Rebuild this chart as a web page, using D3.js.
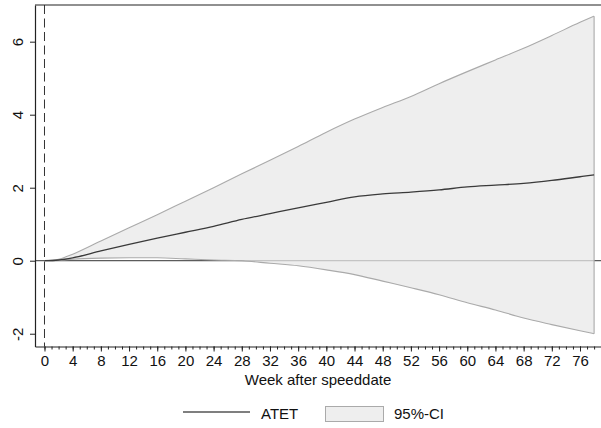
<!DOCTYPE html>
<html>
<head>
<meta charset="utf-8">
<script src="https://cdn.jsdelivr.net/npm/d3@7"></script>
<style>
  body { margin: 0; background: #fff; }
  svg { display: block; font-family: "Liberation Sans", Arial, Helvetica, sans-serif; }
</style>
</head>
<body>
<svg id="chart"></svg>
<script>
// Data
const weeks = [0, 2, 4, 8, 12, 16, 20, 24, 28, 32, 36, 40, 44, 48, 52, 56, 60, 64, 68, 72, 76, 78];
const atet  = [0, 0.02, 0.08, 0.27, 0.45, 0.62, 0.78, 0.94, 1.13, 1.29, 1.45, 1.60, 1.75, 1.83, 1.88, 1.94, 2.02, 2.07, 2.12, 2.20, 2.30, 2.35];
const ciUp  = [0, 0.04, 0.18, 0.54, 0.90, 1.26, 1.63, 2.00, 2.38, 2.75, 3.13, 3.52, 3.88, 4.20, 4.50, 4.85, 5.18, 5.50, 5.82, 6.17, 6.53, 6.70];
const ciLo  = [0, 0.01, 0.04, 0.07, 0.08, 0.08, 0.05, 0.02, 0.00, -0.07, -0.14, -0.25, -0.38, -0.56, -0.74, -0.93, -1.15, -1.35, -1.57, -1.75, -1.92, -2.00];
const xTicks = d3.range(0, 77, 4);
const yTicks = [-2, 0, 2, 4, 6];

const width = 601, height = 428;
const plot = { left: 35, right: 601, top: 5, bottom: 346.5 };

const svg = d3.select("#chart")
    .attr("width", width)
    .attr("height", height);

const x = d3.scaleLinear().domain([-1.348, 78.98]).range([plot.left, plot.right]);
const y = d3.scaleLinear().domain([-2.35, 7.005]).range([plot.bottom, plot.top]);

const rows = weeks.map((w, i) => ({ w, a: atet[i], lo: ciLo[i], hi: ciUp[i] }));

// zero line (drawn first so the band tints it)
svg.append("line")
    .attr("x1", plot.left).attr("x2", plot.right)
    .attr("y1", y(0)).attr("y2", y(0))
    .attr("stroke", "#333").attr("stroke-width", 1);

// CI band
const area = d3.area()
    .x(d => x(d.w))
    .y0(d => y(d.lo))
    .y1(d => y(d.hi))
    .curve(d3.curveMonotoneX);

svg.append("path")
    .datum(rows)
    .attr("d", area)
    .attr("fill", "rgb(232,232,232)")
    .attr("fill-opacity", 0.74);

// band outline
const upLine = d3.line().x(d => x(d.w)).y(d => y(d.hi)).curve(d3.curveMonotoneX);
const loLine = d3.line().x(d => x(d.w)).y(d => y(d.lo)).curve(d3.curveMonotoneX);
svg.append("path").datum(rows).attr("d", upLine)
    .attr("fill", "none").attr("stroke", "#aaa").attr("stroke-width", 1.1);
svg.append("path").datum(rows).attr("d", loLine)
    .attr("fill", "none").attr("stroke", "#aaa").attr("stroke-width", 1.1);
const last = rows[rows.length - 1];
svg.append("line")
    .attr("x1", x(last.w)).attr("x2", x(last.w))
    .attr("y1", y(last.lo)).attr("y2", y(last.hi))
    .attr("stroke", "#aaa").attr("stroke-width", 1.1);

// ATET line
svg.append("path")
    .datum(rows)
    .attr("d", d3.line().x(d => x(d.w)).y(d => y(d.a)).curve(d3.curveMonotoneX))
    .attr("fill", "none")
    .attr("stroke", "#3a3a3a")
    .attr("stroke-width", 1.3);

// dashed line at week 0
svg.append("line")
    .attr("x1", x(0)).attr("x2", x(0))
    .attr("y1", plot.top).attr("y2", plot.bottom)
    .attr("stroke", "#333").attr("stroke-width", 1)
    .attr("stroke-dasharray", "9,4.5");

// top border
svg.append("line")
    .attr("x1", plot.left).attr("x2", plot.right)
    .attr("y1", plot.top).attr("y2", plot.top)
    .attr("stroke", "#222").attr("stroke-width", 1.2);

// x axis: minor ticks every week, labelled every 4
svg.append("g")
    .attr("transform", `translate(0,${plot.bottom})`)
    .call(d3.axisBottom(x).tickValues(d3.range(0, 79)).tickSize(3).tickFormat("").tickSizeOuter(0))
    .call(g => g.select(".domain").remove())
    .call(g => g.selectAll("line").attr("stroke", "#222"));

const xAxis = svg.append("g")
    .attr("transform", `translate(0,${plot.bottom})`)
    .call(d3.axisBottom(x).tickValues(xTicks).tickSize(5).tickPadding(4).tickSizeOuter(0));
xAxis.select(".domain").attr("stroke", "#222").attr("stroke-width", 1.2);
xAxis.selectAll("line").attr("stroke", "#222");
xAxis.selectAll("text")
    .attr("font-size", 15)
    .attr("font-family", "Liberation Sans, Arial, sans-serif")
    .attr("fill", "#111");

svg.append("text")
    .attr("x", (plot.left + plot.right) / 2)
    .attr("y", 385)
    .attr("text-anchor", "middle")
    .attr("font-size", 15)
    .attr("fill", "#111")
    .text("Week after speeddate");

// y axis (plain hyphen for negatives, as in the original)
const yAxis = svg.append("g")
    .attr("transform", `translate(${plot.left},0)`)
    .call(d3.axisLeft(y).tickValues(yTicks).tickSize(5).tickSizeOuter(0).tickFormat(d => String(d)));
yAxis.select(".domain").attr("stroke", "#222").attr("stroke-width", 1.2);
yAxis.selectAll("line").attr("stroke", "#222");
yAxis.selectAll("text")
    .attr("font-size", 15)
    .attr("font-family", "Liberation Sans, Arial, sans-serif")
    .attr("fill", "#111")
    .attr("text-anchor", "middle")
    .attr("dy", 0)
    .attr("x", 0)
    .attr("transform", "translate(-12,0) rotate(-90)");

// legend
const leg = svg.append("g");
leg.append("line")
    .attr("x1", 183).attr("x2", 250)
    .attr("y1", 412).attr("y2", 412)
    .attr("stroke", "#555").attr("stroke-width", 1.3);
leg.append("text")
    .attr("x", 261).attr("y", 419)
    .attr("font-size", 15).attr("fill", "#111")
    .text("ATET");
leg.append("rect")
    .attr("x", 325.5).attr("y", 406.5)
    .attr("width", 58).attr("height", 15)
    .attr("fill", "#eee").attr("stroke", "#aaa");
leg.append("text")
    .attr("x", 394).attr("y", 419)
    .attr("font-size", 15).attr("fill", "#111")
    .text("95%-CI");
</script>
</body>
</html>
